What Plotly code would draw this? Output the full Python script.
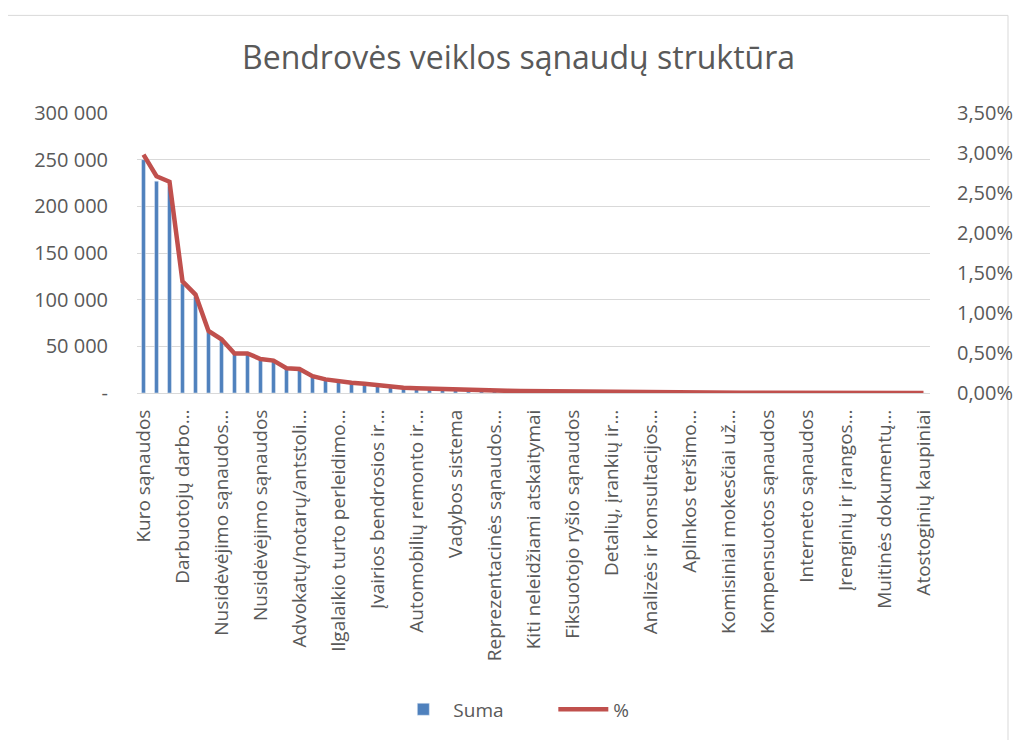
import plotly.graph_objects as go

# matomi kategoriju pavadinimai (kas trecia kategorija)
zymes = ['Kuro sąnaudos', 'Darbuotojų darbo…', 'Nusidėvėjimo sąnaudos…', 'Nusidėvėjimo sąnaudos',
         'Advokatų/notarų/antstoli…', 'Ilgalaikio turto perleidimo…', 'Įvairios bendrosios ir…',
         'Automobilių remonto ir…', 'Vadybos sistema', 'Reprezentacinės sąnaudos…',
         'Kiti neleidžiami atskaitymai', 'Fiksuotojo ryšio sąnaudos', 'Detalių, įrankių ir…',
         'Analizės ir konsultacijos…', 'Aplinkos teršimo…', 'Komisiniai mokesčiai už…',
         'Kompensuotos sąnaudos', 'Interneto sąnaudos', 'Įrenginių ir įrangos…',
         'Muitinės dokumentų…', 'Atostoginių kaupiniai']

suma = [250000, 227000, 221000, 117000, 103000, 65000, 56000, 41500, 41500, 35700,
        34000, 26000, 25000, 17600, 14300, 12200, 10700, 9600, 8000, 6300,
        5500, 4900, 4400, 3900, 3400, 2900, 2600, 2400, 2250, 2100,
        1950, 1800, 1650, 1500, 1350, 1200, 1080, 970, 870, 780,
        700, 620, 550, 490, 430, 380, 340, 300, 260, 230,
        200, 175, 150, 130, 110, 95, 80, 65, 50, 40, 30]

proc = [0.0298, 0.0271, 0.0264, 0.01395, 0.0123, 0.00776, 0.00672, 0.00495, 0.00495, 0.00425,
        0.00405, 0.0031, 0.0030, 0.0021, 0.0017, 0.00145, 0.00128, 0.00115, 0.00095, 0.00075,
        0.00066, 0.00058, 0.00052, 0.00046, 0.00040, 0.00035, 0.00031, 0.00029, 0.00027, 0.00025,
        0.00023, 0.00021, 0.00020, 0.00018, 0.00016, 0.00014, 0.00013, 0.00012, 0.00010, 0.000093,
        0.000083, 0.000074, 0.000066, 0.000058, 0.000051, 0.000045, 0.00004, 0.000036, 0.000031, 0.000027,
        0.000024, 0.000021, 0.000018, 0.000016, 0.000013, 0.000011, 0.0000095, 0.0000078, 0.000006, 0.0000048, 0.0000036]

kaire_ticks = [0, 50000, 100000, 150000, 200000, 250000, 300000]
kaire_text = ['-', '50 000', '100 000', '150 000', '200 000', '250 000', '300 000']

x = list(range(len(suma)))
pilka = '#595959'
sriftas = 'Open Sans'

fig = go.Figure()
fig.add_trace(go.Bar(x=x, y=suma, name='Suma', marker_color='#4F81BD', width=0.3))
fig.add_trace(go.Scatter(x=x, y=proc, name='%', yaxis='y2', mode='lines',
                         line=dict(color='#C0504D', width=4.5)))

# puslapis turi 8px body parasce, todel figura mazesne ir pastumta
fig.update_layout(
    width=1005, height=732,
    margin=dict(l=129, r=83, t=105, b=341),
    paper_bgcolor='white', plot_bgcolor='white',
    separators=', ',
    font=dict(family=sriftas, size=19, color=pilka),
    title=dict(text='Bendrovės veiklos sąnaudų struktūra', x=0.508, xanchor='center',
               y=1 - 50 / 732, yanchor='middle', font=dict(family=sriftas, size=32, color=pilka)),
    xaxis=dict(range=[-0.5, len(suma) - 0.5], tickvals=x[::3], ticktext=zymes, tickangle=-90,
               showgrid=False, showline=True, linecolor='#D9D9D9', linewidth=1, ticks='',
               ticklabelstandoff=8, automargin=False),
    yaxis=dict(range=[0, 300000], tickvals=kaire_ticks, ticktext=kaire_text,
               showgrid=True, gridcolor='#D9D9D9', gridwidth=1, zeroline=False,
               ticklabelstandoff=28, tickfont=dict(size=20), automargin=False),
    yaxis2=dict(range=[0, 0.035], overlaying='y', side='right', tickformat='.2%',
                dtick=0.005, showgrid=False, zeroline=False, ticklabelstandoff=26,
                tickfont=dict(size=20), automargin=False),
    legend=dict(orientation='h', x=0.525, xanchor='center', y=-1.13, yanchor='middle',
                font=dict(size=19, color=pilka), entrywidth=95, itemwidth=50),
    bargap=0.7,
    showlegend=True,
)

# remelis aplink diagrama
fig.add_shape(type='rect', xref='paper', yref='paper',
              x0=(4 - 137) / 793, x1=(1008 - 137) / 793,
              y0=(396 - 760) / 284, y1=(396 - 13) / 284,
              line=dict(color='#D9D9D9', width=1), layer='below')

fig.write_html("out.html")
